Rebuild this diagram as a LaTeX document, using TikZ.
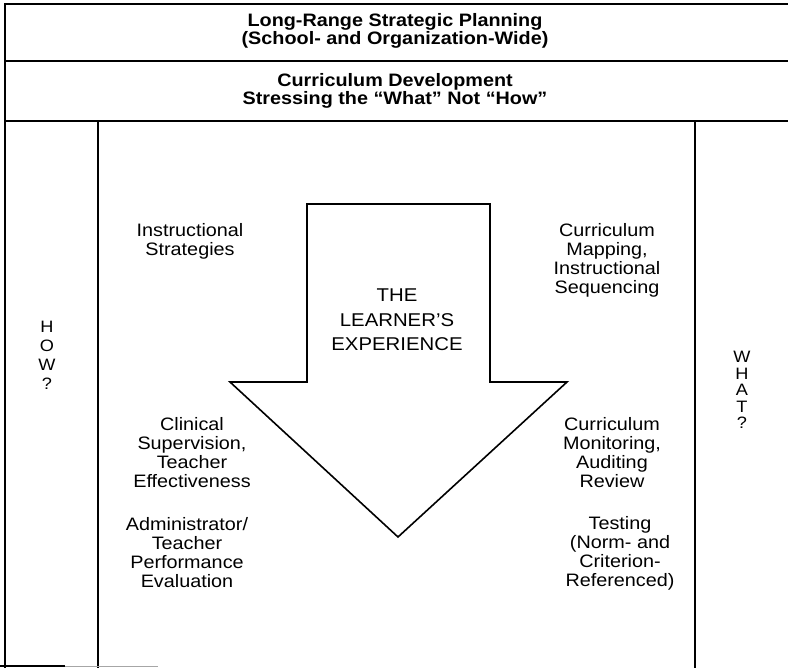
\documentclass[tikz,border=0pt]{standalone}
\usepackage{fontspec}
\setmainfont{Liberation Sans}[FakeStretch=1.1]
\usepackage{tikz}
\usepackage{xcolor}
\tikzset{
    frame-line/.style = {draw=black, line width=1.5pt},
    band-title/.style = {align=center, font=\bfseries\fontsize{18}{18.5}\selectfont},
    side-text/.style = {align=center, font=\fontsize{18}{19}\selectfont},
    axis-text/.style = {align=center, font=\fontsize{16.5}{19}\selectfont},
    learner-arrow/.style = {draw=black, line width=1.6pt, fill=white, line join=miter},
    learner-text/.style = {align=center, font=\fontsize{18.5}{24.5}\selectfont},
}

\begin{document}
\begin{tikzpicture}[x=1pt, y=-1pt]
\useasboundingbox (0,0) rectangle (788,668);
\coordinate (top-left) at (5,4);
\coordinate (top-right) at (788,4);
\coordinate (bottom-left) at (5,668);
\draw[frame-line] (top-right) -- (top-left) -- (bottom-left);
\draw[frame-line] (5,61) -- (788,61);
\draw[frame-line] (5,121) -- (788,121);
\draw[frame-line] (98,121) -- (98,668);
\draw[frame-line] (695,121) -- (695,668);
\draw[frame-line] (0,666) -- (65,666);
\draw[black!35, line width=1pt] (65,666) -- (158,666);
\draw[learner-arrow] (307,204) -- (490,204) -- (490,382) -- (567,382) -- (398,537) -- (230,382) -- (307,382) -- cycle;
\node[band-title] (planning) at (395,31) {Long-Range Strategic Planning\\(School- and Organization-Wide)};
\node[band-title] (curriculum) at (395,91) {Curriculum Development\\Stressing the ``What'' Not ``How''};
\node[learner-text] (learner) at (397,320) {THE\\LEARNER'S\\EXPERIENCE};
\node[axis-text] (how) at (47,355) {H\\O\\W\\?};
\node[axis-text, font=\fontsize{16.5}{16.5}\selectfont] (what) at (742,390) {W\\H\\A\\T\\?};
\node[side-text] (strategies) at (190,241) {Instructional\\Strategies};
\node[side-text] (mapping) at (607,260) {Curriculum\\Mapping,\\Instructional\\Sequencing};
\node[side-text] (supervision) at (192,453) {Clinical\\Supervision,\\Teacher\\Effectiveness};
\node[side-text] (monitoring) at (612,453) {Curriculum\\Monitoring,\\Auditing\\Review};
\node[side-text] (evaluation) at (187,553) {Administrator/\\Teacher\\Performance\\Evaluation};
\node[side-text] (testing) at (620,553) {Testing\\(Norm- and\\Criterion-\\Referenced)};
\end{tikzpicture}
\end{document}
